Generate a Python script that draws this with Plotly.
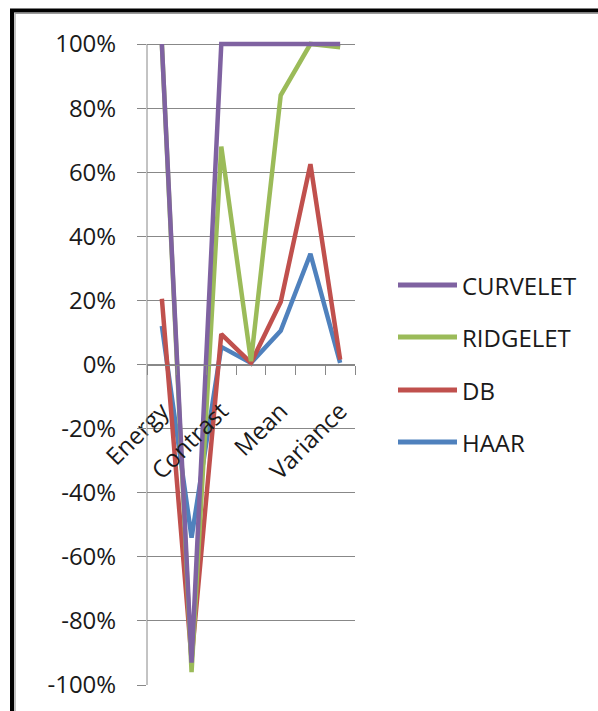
import plotly.graph_objects as go

# Texture features compared across transforms (values as fractions of 100%)
categories = ["Energy", "Entropy", "Contrast", "Correlation", "Mean", "Standard Deviation", "Variance"]
labelled_categories = ["Energy", "Contrast", "Mean", "Variance"]

series_names = ["CURVELET", "RIDGELET", "DB", "HAAR"]
curvelet = [1.00, -0.93, 1.00, 1.00, 1.00, 1.00, 1.00]
ridgelet = [1.00, -0.96, 0.68, 0.01, 0.84, 1.00, 0.99]
db = [0.205, -0.92, 0.095, 0.005, 0.195, 0.625, 0.015]
haar = [0.12, -0.54, 0.055, 0.005, 0.105, 0.345, 0.005]

y_ticks = [-1.0, -0.8, -0.6, -0.4, -0.2, 0.0, 0.2, 0.4, 0.6, 0.8, 1.0]
y_tick_text = [f"{round(v * 100)}%" for v in y_ticks]

colors = {"CURVELET": "#7F62A1", "RIDGELET": "#9BBB59", "DB": "#C0504D", "HAAR": "#4F81BD"}
values = {"CURVELET": curvelet, "RIDGELET": ridgelet, "DB": db, "HAAR": haar}

W, H = 598, 711
GRAY = "#888888"
FONT = "Open Sans"

# Pixel frame of the value grid: 100% sits at y=44, -100% at y=685
GRID_TOP, GRID_BOTTOM = 44, 685
ML, MR, MT, MB = 147, 243, 40, H - GRID_BOTTOM
PW, PH = W - ML - MR, H - MT - MB

y_min, y_max = y_ticks[0], y_ticks[-1]
px_per_unit = (GRID_BOTTOM - GRID_TOP) / (y_max - y_min)
# a little headroom so lines sitting on 100% are not cut in half
y_top = y_max + (GRID_TOP - MT) / px_per_unit


def px_x(px):
    return (px - ML) / PW


def px_y(py):
    return 1 - (py - MT) / PH


xs = list(range(len(categories)))
fig = go.Figure()

# Draw back-to-front so the curvelet line sits on top
for name in ["HAAR", "DB", "RIDGELET", "CURVELET"]:
    fig.add_trace(go.Scatter(
        x=xs, y=values[name], mode="lines", name=name,
        line=dict(color=colors[name], width=4.5),
        showlegend=False,
    ))

fig.update_layout(
    width=W, height=H,
    margin=dict(l=ML, r=MR, t=MT, b=MB),
    paper_bgcolor="white", plot_bgcolor="white",
    font=dict(family=FONT, size=24, color="#1a1a1a"),
    xaxis=dict(
        range=[-0.5, len(categories) - 0.5],
        tickvals=[categories.index(c) for c in labelled_categories],
        ticktext=labelled_categories,
        tickangle=-45,
        ticks="",
        ticklabelstandoff=22,
        showgrid=False, zeroline=False,
        showline=True, linecolor=GRAY, linewidth=1,
        anchor="free", position=(0 - y_min) / (y_top - y_min),
        minor=dict(
            tickvals=[i - 0.5 for i in range(len(categories) + 1)],
            ticks="outside", ticklen=9, tickcolor=GRAY, tickwidth=1,
            showgrid=False,
        ),
        tickfont=dict(family=FONT, size=24, color="#1a1a1a"),
    ),
    yaxis=dict(
        range=[y_min, y_top],
        tickvals=y_ticks, ticktext=y_tick_text,
        showgrid=True, gridcolor=GRAY, gridwidth=1,
        zeroline=False,
        showline=False,
        ticks="outside", ticklen=9, tickcolor=GRAY, tickwidth=1,
        ticklabelstandoff=16,
        tickfont=dict(family=FONT, size=24, color="#1a1a1a"),
    ),
)

# Vertical value axis line, spanning exactly -100% to 100%
fig.add_shape(type="line", xref="paper", yref="y", x0=0, x1=0, y0=y_min, y1=y_max,
              line=dict(color=GRAY, width=1))

# Legend: coloured line sample plus name for each series
legend_rows = [285, 337, 390, 442]
for name, row in zip(series_names, legend_rows):
    fig.add_shape(type="line", xref="paper", yref="paper",
                  x0=px_x(398), x1=px_x(457), y0=px_y(row), y1=px_y(row),
                  line=dict(color=colors[name], width=5))
    fig.add_annotation(xref="paper", yref="paper", x=px_x(460), y=px_y(row),
                       text=name, showarrow=False, xanchor="left", yanchor="middle",
                       font=dict(family=FONT, size=24, color="#1a1a1a"))

# Chart frame: heavy black outline with a thin grey inner edge
fig.add_shape(type="rect", xref="paper", yref="paper", layer="above",
              x0=px_x(12), x1=px_x(W + 20), y0=px_y(10.5), y1=px_y(H + 20),
              line=dict(color="black", width=4))
fig.add_shape(type="rect", xref="paper", yref="paper", layer="above",
              x0=px_x(15), x1=px_x(W + 20), y0=px_y(13.5), y1=px_y(H + 20),
              line=dict(color="#9a9a9a", width=1.2))

fig.write_html("out.html")
